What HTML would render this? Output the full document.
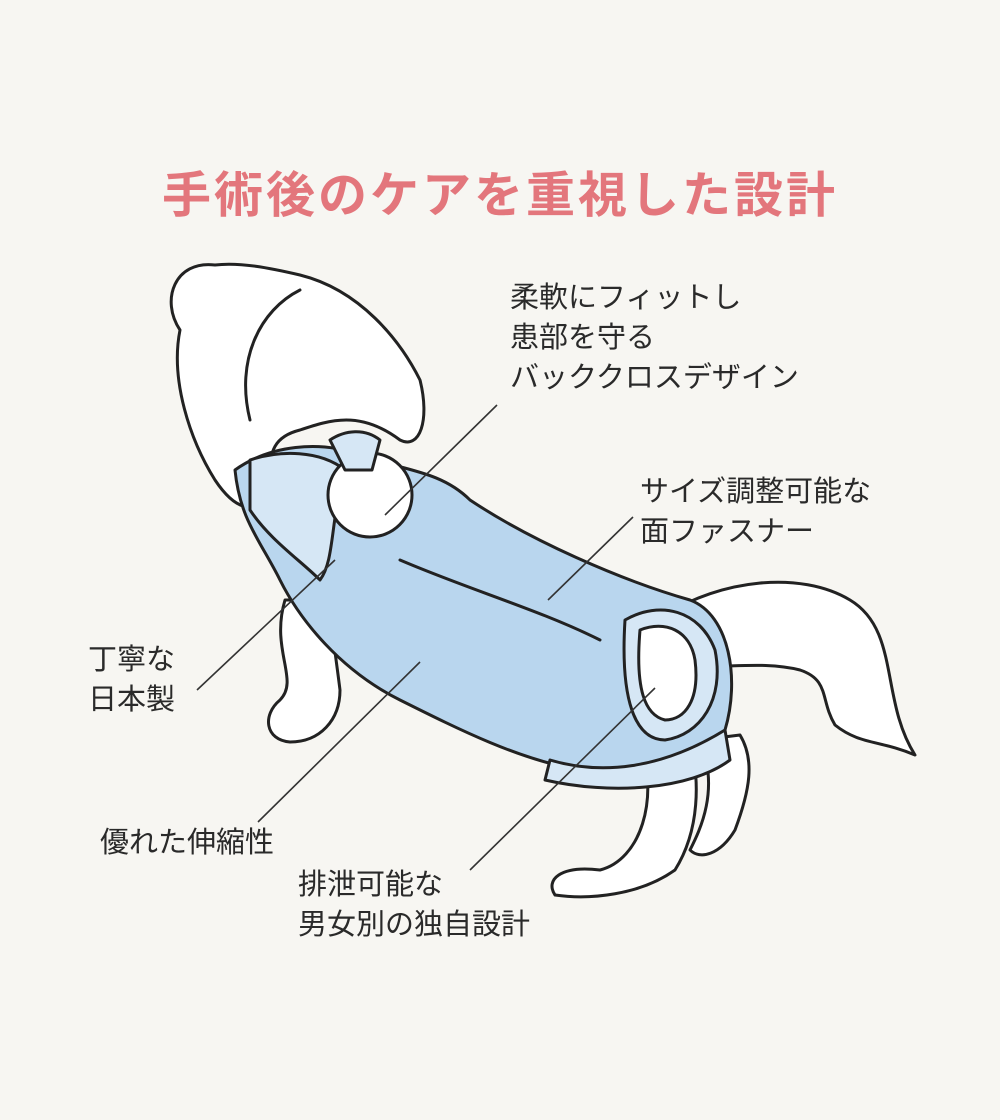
<!DOCTYPE html>
<html><head><meta charset="utf-8">
<style>
html,body{margin:0;padding:0;background:#f7f6f2;}
#c{position:relative;width:1000px;height:1120px;overflow:hidden;background:#f7f6f2;font-family:"Liberation Sans","Noto Sans CJK JP",sans-serif;}
.t{position:absolute;left:0;width:1000px;top:156px;text-align:center;font-size:49px;font-weight:bold;color:#e3767c;letter-spacing:3px;}
.l{position:absolute;font-size:29px;color:#2a2a2a;line-height:40px;white-space:nowrap;}
svg{position:absolute;left:0;top:0;}
</style></head><body>
<div id="c">
<div class="t">手術後のケアを重視した設計</div>
<svg width="1000" height="1120" viewBox="0 0 1000 1120">
<g stroke="#222" stroke-width="3" stroke-linejoin="round" stroke-linecap="round">
<path d="M665 615 C720 580 800 570 850 600 C900 630 880 700 915 755 C880 740 860 745 835 725 C820 700 830 680 800 670 C760 660 720 670 680 665 Z" fill="#fff"/>
<path d="M640 740 C660 800 640 860 600 870 C560 865 545 880 555 895 C590 900 640 895 675 870 C700 830 700 780 690 740 Z" fill="#fff"/>
<path d="M700 740 C720 790 700 830 690 850 C700 860 720 855 735 830 C750 790 755 760 740 735 Z" fill="#fff"/>
<path d="M285 600 C270 650 300 680 280 700 C262 715 265 740 290 742 C320 742 340 720 340 690 C335 650 330 620 330 600 Z" fill="#fff"/>
<path d="M215 265 C175 260 160 300 180 330 C170 380 190 440 215 480 C235 510 255 515 265 495 C275 470 260 440 300 430 C330 420 360 410 400 440 C420 450 430 420 420 380 C400 340 360 290 300 275 C270 268 240 262 215 265 Z" fill="#fff"/>
<path d="M300 290 C260 310 235 360 250 420" fill="none"/>
<path d="M235 470 C270 445 320 440 360 455 C400 470 440 470 470 500 C530 540 620 580 690 600 C730 615 740 680 725 730 C700 770 640 780 580 770 C520 760 460 730 400 700 C340 670 300 620 280 580 C260 540 240 520 235 470 Z" fill="#b9d6ee"/>
<path d="M250 460 C280 450 320 450 345 470 C330 520 335 560 320 580 C300 560 270 540 250 510 Z" fill="#d6e7f5"/>
<ellipse cx="370" cy="495" rx="42" ry="42" fill="#fff"/>
<path d="M330 440 C345 430 365 428 380 440 L372 470 L345 470 Z" fill="#d6e7f5"/>
<path d="M625 620 C660 600 700 610 715 650 C725 700 700 735 665 740 C635 740 620 700 625 620 Z" fill="#d6e7f5"/>
<path d="M640 630 C665 620 690 630 695 660 C700 700 685 720 665 720 C645 715 635 690 640 630 Z" fill="#fff"/>
<path d="M550 760 C600 775 660 770 725 730 L730 760 C690 790 610 795 545 780 Z" fill="#d6e7f5"/>
<path d="M400 560 C470 590 540 610 600 640" fill="none"/>
</g>
<g stroke="#333" stroke-width="1.6">
<line x1="497" y1="405" x2="385" y2="515"/>
<line x1="633" y1="517" x2="548" y2="600"/>
<line x1="197" y1="690" x2="335" y2="560"/>
<line x1="258" y1="822" x2="420" y2="662"/>
<line x1="470" y1="870" x2="655" y2="688"/>
</g>
</svg>
<div class="l" style="left:510px;top:278px;">柔軟にフィットし<br>患部を守る<br>バッククロスデザイン</div>
<div class="l" style="left:640px;top:472px;">サイズ調整可能な<br>面ファスナー</div>
<div class="l" style="left:88px;top:640px;">丁寧な<br>日本製</div>
<div class="l" style="left:100px;top:823px;">優れた伸縮性</div>
<div class="l" style="left:298px;top:865px;">排泄可能な<br>男女別の独自設計</div>
</div>
</body></html>
